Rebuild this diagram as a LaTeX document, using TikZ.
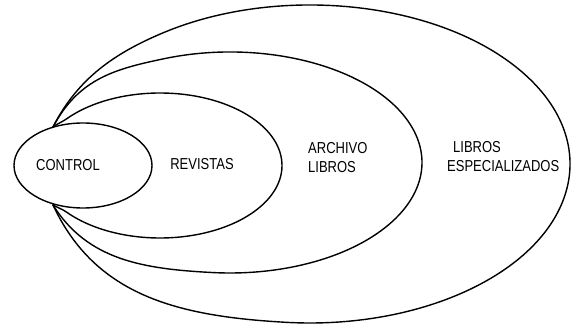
\documentclass[tikz,border=0pt]{standalone}
\usepackage{fontspec}
\setmainfont{Liberation Sans}
\usetikzlibrary{shapes.geometric,calc}
\newcommand{\talltext}[1]{\scalebox{1}[1.22]{#1}}
\begin{document}
\begin{tikzpicture}[x=1pt,y=1pt,
  curve/.style={line width=1.4pt, line cap=round, line join=round},
  lbl/.style={font=\fontsize{13}{19}\selectfont, inner sep=0pt}]
\useasboundingbox (0,0) rectangle (572,326);
% centres of the nested ovals
\coordinate (Rc) at (160,160.5);
\coordinate (Ac) at (230,163.5);
\coordinate (Lc) at (310,162);
% meeting points on the CONTROL oval
\coordinate (T) at (53,199);
\coordinate (B) at (53,121);
% CONTROL oval
\node[ellipse, draw, curve, minimum width=138pt, minimum height=85pt, inner sep=0pt] (ctrl) at (83,160.5) {};
% REVISTAS
\draw[curve] (T) .. controls +(38:5pt) and +(215.3:5pt) .. ($(Rc)+(140:122pt and 72.5pt)$)
  arc[start angle=140, end angle=-140, x radius=122pt, y radius=72.5pt]
  .. controls +(144.7:5pt) and +(-30:5pt) .. (B);
% ARCHIVO LIBROS
\draw[curve] (T) .. controls +(62:55pt) and +(191.8:50pt) .. ($(Ac)+(110:192pt and 110.5pt)$)
  arc[start angle=110, end angle=-95, x radius=192pt, y radius=110.5pt]
  .. controls +(177.1:70pt) and +(-58:65pt) .. (B);
% LIBROS ESPECIALIZADOS
\draw[curve] (T) .. controls +(63:55pt) and +(203.2:50pt) .. ($(Lc)+(125:260pt and 159pt)$)
  arc[start angle=125, end angle=-95, x radius=260pt, y radius=159pt]
  .. controls +(176.9:110pt) and +(-65:100pt) .. (B);
% labels
\node[lbl] (tcontrol) at (68,160.5) {\talltext{CONTROL}};
\node[lbl] (trevistas) at (202,162) {\talltext{REVISTAS}};
\node[lbl, anchor=west, align=left] (tarchivo) at (308,168.5) {\talltext{ARCHIVO}\\\talltext{LIBROS}};
\node[lbl, anchor=west] (tlibros) at (453,178.5) {\talltext{LIBROS}};
\node[lbl, anchor=west] (tespec) at (447,159.5) {\talltext{ESPECIALIZADOS}};
\end{tikzpicture}
\end{document}
